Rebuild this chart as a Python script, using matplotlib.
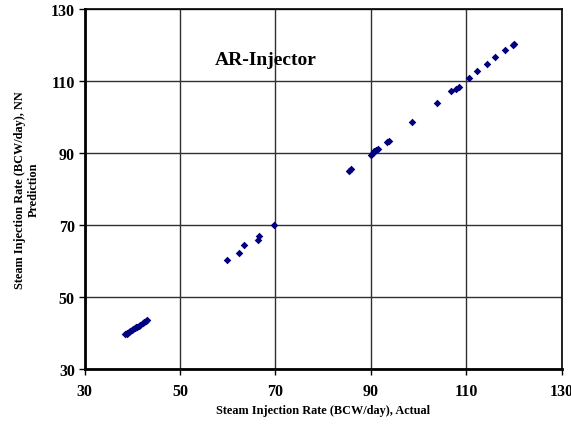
import matplotlib.pyplot as plt

plt.rcParams['font.family'] = ['Liberation Serif', 'DejaVu Serif']
plt.rcParams['font.weight'] = 'bold'

# actual vs NN prediction (BCW/day)
actual = [38.5, 38.8, 39.0, 39.3, 39.6, 39.9, 40.2, 40.5, 40.8, 41.1, 41.4, 41.7,
          42.2, 42.5, 42.8, 43.1,
          59.9, 62.3, 63.5, 66.3, 66.5, 69.7,
          85.4, 85.8, 90.0, 90.4, 90.7, 91.0, 91.4, 93.3, 93.7,
          98.6, 103.8, 106.8, 107.8, 108.5, 110.6, 112.2, 114.3, 116.0,
          118.1, 119.7, 120.0]
predicted = [39.6, 39.8, 40.0, 40.3, 40.5, 40.8, 41.0, 41.2, 41.5, 41.7, 41.9, 42.1,
             42.7, 43.0, 43.3, 43.5,
             60.1, 62.1, 64.3, 65.9, 66.9, 70.0,
             85.1, 85.6, 89.4, 89.9, 90.4, 90.7, 91.1, 93.0, 93.4,
             98.5, 103.9, 107.2, 107.8, 108.3, 110.9, 112.8, 114.7, 116.6,
             118.6, 120.0, 120.3]

ticks = [30, 50, 70, 90, 110, 130]

fig = plt.figure(figsize=(5.71, 4.31), dpi=100)
ax = fig.add_axes([0.148, 0.142, 0.836, 0.835])

ax.scatter(actual, predicted, marker='D', s=15, color='#000080', zorder=3, linewidths=0)

ax.set_xlim(30, 130)
ax.set_ylim(30, 130)
ax.set_xticks(ticks)
ax.set_yticks(ticks)
ax.grid(True, color='#303030', linewidth=1.0)
ax.set_axisbelow(True)

for s in ['left', 'bottom']:
    ax.spines[s].set_linewidth(2)
for s in ['top', 'right']:
    ax.spines[s].set_linewidth(1.2)

ax.tick_params(direction='out', length=4, width=1, labelsize=11.5)
ax.tick_params(axis='x', pad=6)
ax.tick_params(axis='y', pad=3)
for lab in ax.get_xticklabels() + ax.get_yticklabels():
    lab.set_fontweight('bold')

ax.set_xlabel('Steam Injection Rate (BCW/day), Actual', fontsize=8.8, fontweight='bold', labelpad=4)
ax.set_ylabel('Steam Injection Rate (BCW/day), NN\nPrediction', fontsize=8.8, fontweight='bold',
              labelpad=8)

ax.text(68, 116, 'AR-Injector', fontsize=14, fontweight='bold', ha='center', va='center')

fig.savefig('out.png', dpi=100)
